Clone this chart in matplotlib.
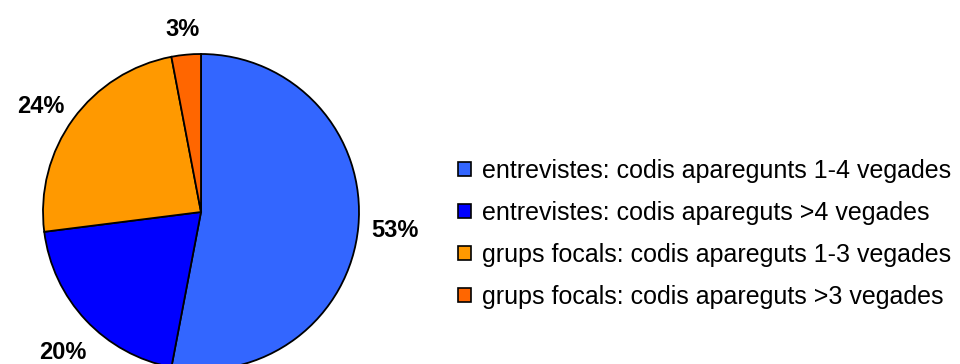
import matplotlib
matplotlib.use("Agg")
import matplotlib.pyplot as plt
from matplotlib.patches import Patch

plt.rcParams['font.family'] = ['Liberation Sans', 'DejaVu Sans']

# Data
labels = ["entrevistes: codis aparegunts 1-4 vegades",
          "entrevistes: codis apareguts >4 vegades",
          "grups focals: codis apareguts 1-3 vegades",
          "grups focals: codis apareguts >3 vegades"]
values = [53, 20, 24, 3]
colors = ["#3366FF", "#0000FF", "#FF9900", "#FF6600"]

fig = plt.figure(figsize=(9.6, 3.64), dpi=100)
# axes in pixel units so the pie can sit where it does in the original
ax = fig.add_axes([0, 0, 1, 1])

wedges, texts, autotexts = ax.pie(
    values, colors=colors, startangle=90, counterclock=False,
    center=(201, 152), radius=158,
    autopct="%1.0f%%", pctdistance=1.23,
    wedgeprops=dict(edgecolor="black", linewidth=1.3),
    textprops=dict(fontsize=17, fontweight="bold", color="black"))

# nudge labels a little, like the original layout (pixel offsets)
offsets = [(0, 0), (3, -7), (-3, -9), (0, -11)]
for t, (dx, dy) in zip(autotexts, offsets):
    x, y = t.get_position()
    t.set_position((x + dx, y + dy))

ax.set_xlim(0, 960)
ax.set_ylim(0, 364)
ax.set_aspect("equal")
ax.axis("off")

handles = [Patch(facecolor=c, edgecolor="black", linewidth=1.2) for c in colors]
fig.legend(handles, labels, loc="center left", bbox_to_anchor=(458 / 960, 1 - 234 / 364),
           frameon=False, fontsize=18, handlelength=0.52, handleheight=0.52,
           handletextpad=0.42, labelspacing=0.72, borderpad=0, borderaxespad=0)

fig.savefig("out.png", dpi=100)
